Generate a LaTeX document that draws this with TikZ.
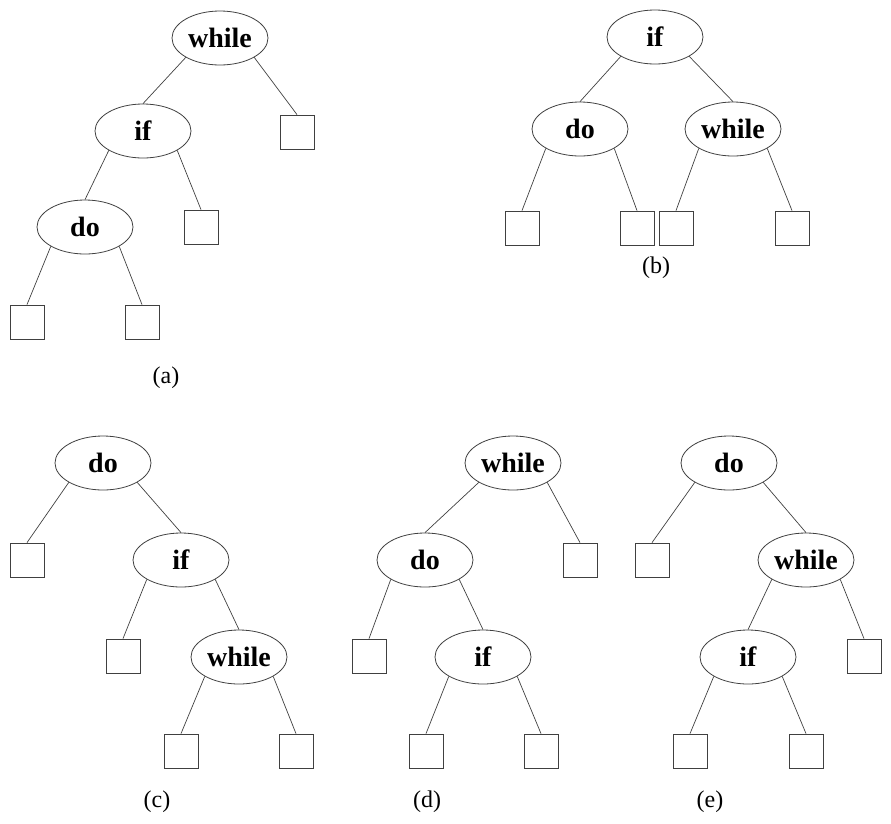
\documentclass[tikz,border=0pt]{standalone}
\usepackage{fontspec}
\setmainfont{Liberation Serif}
\usetikzlibrary{shapes.geometric}
\begin{document}
\begin{tikzpicture}[x=1pt,y=-1pt,
  kw/.style={draw=black!75, line width=0.8pt, ellipse, minimum width=96pt, minimum height=54pt, inner sep=0pt, font=\fontsize{28}{30}\selectfont\bfseries},
  leaf/.style={draw=black!75, line width=0.8pt, rectangle, minimum size=34pt, inner sep=0pt},
  edge/.style={draw=black!75, line width=0.7pt},
  lbl/.style={font=\fontsize{24}{26}\selectfont}]
\useasboundingbox (0,0) rectangle (891,823);
% (a)
\node[kw] (a1) at (220,38) {while};
\node[kw] (a2) at (143,131) {if};
\node[kw] (a3) at (85,227) {do};
\node[leaf] (a4) at (297,132) {};
\node[leaf] (a5) at (201,227) {};
\node[leaf] (a6) at (27,322) {};
\node[leaf] (a7) at (142,322) {};
\node[lbl] (la) at (166,378) {(a)};
\draw[edge] (a1.south west) -- (a2.north);
\draw[edge] (a1.south east) -- (a4.north);
\draw[edge] (a2.south west) -- (a3.north);
\draw[edge] (a2.south east) -- (a5.north);
\draw[edge] (a3.south west) -- (a6.north);
\draw[edge] (a3.south east) -- (a7.north);
% (b)
\node[kw] (b1) at (655,37) {if};
\node[kw] (b2) at (580,129) {do};
\node[kw] (b3) at (733,129) {while};
\node[leaf] (b4) at (522,228) {};
\node[leaf] (b5) at (637,228) {};
\node[leaf] (b6) at (676,228) {};
\node[leaf] (b7) at (792,228) {};
\node[lbl] (lb) at (656,268) {(b)};
\draw[edge] (b1.south west) -- (b2.north);
\draw[edge] (b1.south east) -- (b3.north);
\draw[edge] (b2.south west) -- (b4.north);
\draw[edge] (b2.south east) -- (b5.north);
\draw[edge] (b3.south west) -- (b6.north);
\draw[edge] (b3.south east) -- (b7.north);
% (c)
\node[kw] (c1) at (103,463) {do};
\node[leaf] (c2) at (27,560) {};
\node[kw] (c3) at (181,560) {if};
\node[leaf] (c4) at (123,656) {};
\node[kw] (c5) at (239,657) {while};
\node[leaf] (c6) at (181,751) {};
\node[leaf] (c7) at (296,751) {};
\node[lbl] (lc) at (157,802) {(c)};
\draw[edge] (c1.south west) -- (c2.north);
\draw[edge] (c1.south east) -- (c3.north);
\draw[edge] (c3.south west) -- (c4.north);
\draw[edge] (c3.south east) -- (c5.north);
\draw[edge] (c5.south west) -- (c6.north);
\draw[edge] (c5.south east) -- (c7.north);
% (d)
\node[kw] (d1) at (513,463) {while};
\node[kw] (d2) at (425,560) {do};
\node[leaf] (d3) at (580,560) {};
\node[leaf] (d4) at (369,656) {};
\node[kw] (d5) at (483,657) {if};
\node[leaf] (d6) at (426,751) {};
\node[leaf] (d7) at (541,751) {};
\node[lbl] (ld) at (427,802) {(d)};
\draw[edge] (d1.south west) -- (d2.north);
\draw[edge] (d1.south east) -- (d3.north);
\draw[edge] (d2.south west) -- (d4.north);
\draw[edge] (d2.south east) -- (d5.north);
\draw[edge] (d5.south west) -- (d6.north);
\draw[edge] (d5.south east) -- (d7.north);
% (e)
\node[kw] (e1) at (729,463) {do};
\node[leaf] (e2) at (652,560) {};
\node[kw] (e3) at (806,560) {while};
\node[kw] (e4) at (748,657) {if};
\node[leaf] (e5) at (864,656) {};
\node[leaf] (e6) at (690,751) {};
\node[leaf] (e7) at (806,751) {};
\node[lbl] (le) at (710,802) {(e)};
\draw[edge] (e1.south west) -- (e2.north);
\draw[edge] (e1.south east) -- (e3.north);
\draw[edge] (e3.south west) -- (e4.north);
\draw[edge] (e3.south east) -- (e5.north);
\draw[edge] (e4.south west) -- (e6.north);
\draw[edge] (e4.south east) -- (e7.north);
\end{tikzpicture}
\end{document}
